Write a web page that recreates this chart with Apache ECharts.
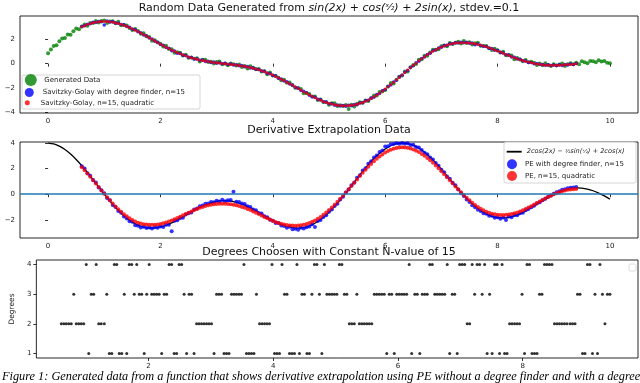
<!DOCTYPE html>
<html><head><meta charset="utf-8">
<script src="https://cdn.jsdelivr.net/npm/echarts@6/dist/echarts.min.js"></script>
<style>html,body{margin:0;padding:0;background:#fff}#c{width:640px;height:383px}</style>
</head><body><div id="c"></div>
<script>
// ---------- Panel 1: generated data ----------
const xGen = [
0,0.05,0.1,0.15,0.2,0.25,0.3,0.35,0.4,0.45,0.5,0.55,0.6,0.65,0.7,0.75,0.8,0.85,0.9,0.95,
1,1.05,1.1,1.15,1.2,1.25,1.3,1.35,1.4,1.45,1.5,1.55,1.6,1.65,1.7,1.75,1.8,1.85,1.9,1.95,
2,2.05,2.1,2.15,2.2,2.25,2.3,2.35,2.4,2.45,2.5,2.55,2.6,2.65,2.7,2.75,2.8,2.85,2.9,2.95,
3,3.05,3.1,3.15,3.2,3.25,3.3,3.35,3.4,3.45,3.5,3.55,3.6,3.65,3.7,3.75,3.8,3.85,3.9,3.95,
4,4.05,4.1,4.15,4.2,4.25,4.3,4.35,4.4,4.45,4.5,4.55,4.6,4.65,4.7,4.75,4.8,4.85,4.9,4.95,
5,5.05,5.1,5.15,5.2,5.25,5.3,5.35,5.4,5.45,5.5,5.55,5.6,5.65,5.7,5.75,5.8,5.85,5.9,5.95,
6,6.05,6.1,6.15,6.2,6.25,6.3,6.35,6.4,6.45,6.5,6.55,6.6,6.65,6.7,6.75,6.8,6.85,6.9,6.95,
7,7.05,7.1,7.15,7.2,7.25,7.3,7.35,7.4,7.45,7.5,7.55,7.6,7.65,7.7,7.75,7.8,7.85,7.9,7.95,
8,8.05,8.1,8.15,8.2,8.25,8.3,8.35,8.4,8.45,8.5,8.55,8.6,8.65,8.7,8.75,8.8,8.85,8.9,8.95,
9,9.05,9.1,9.15,9.2,9.25,9.3,9.35,9.4,9.45,9.5,9.55,9.6,9.65,9.7,9.75,9.8,9.85,9.9,9.95,
10];
const yGen = [
0.85,1.16,1.45,1.51,1.84,2.07,2.11,2.39,2.38,2.66,
2.89,2.83,3.04,3.21,3.10,3.34,3.34,3.50,3.37,3.49,
3.54,3.34,3.45,3.48,3.32,3.43,3.15,3.18,3.13,2.93,
2.77,2.84,2.67,2.45,2.50,2.24,2.18,1.87,1.93,1.73,
1.64,1.40,1.47,1.21,1.18,0.90,0.93,0.90,0.67,0.74,
0.48,0.51,0.41,0.44,0.18,0.31,0.32,0.13,0.15,0.01,
0.13,0.18,-0.04,0.01,-0.13,0.01,-0.04,-0.15,-0.06,-0.27,
-0.20,-0.39,-0.22,-0.33,-0.46,-0.43,-0.64,-0.63,-0.86,-0.72,
-0.98,-0.99,-1.15,-1.37,-1.32,-1.57,-1.54,-1.78,-1.98,-2.00,
-2.08,-2.43,-2.40,-2.50,-2.70,-2.69,-2.98,-2.95,-3.14,-3.16,
-3.37,-3.24,-3.26,-3.48,-3.42,-3.47,-3.40,-3.73,-3.38,-3.52,
-3.30,-3.16,-3.21,-3.02,-3.06,-2.83,-2.61,-2.62,-2.33,-2.27,
-2.16,-1.87,-1.59,-1.63,-1.32,-1.07,-0.97,-0.65,-0.65,-0.29,
-0.12,-0.02,0.33,0.37,0.64,0.64,0.92,1.14,1.14,1.18,
1.43,1.48,1.43,1.69,1.61,1.71,1.80,1.66,1.85,1.70,
1.76,1.57,1.67,1.71,1.46,1.45,1.45,1.27,1.13,1.23,
1.10,0.91,0.97,0.68,0.70,0.67,0.37,0.46,0.34,0.20,
0.30,0.11,0.15,0.07,-0.12,0.02,-0.14,0.03,-0.11,-0.20,
-0.05,-0.16,-0.07,0.01,-0.19,-0.04,0.04,-0.05,0.07,-0.05,
0.19,0.11,0.04,0.21,0.19,0.11,0.27,0.17,0.22,0.07,
0.03];
// shared x positions of the smoothed / extrapolated estimates
const xEst = [
0.6,0.65,0.7,0.75,0.8,0.85,0.9,0.95,1,1.05,
1.1,1.15,1.2,1.25,1.3,1.35,1.4,1.45,1.5,1.55,
1.6,1.65,1.7,1.75,1.8,1.85,1.9,1.95,2,2.05,
2.1,2.15,2.2,2.25,2.3,2.35,2.4,2.45,2.5,2.55,
2.6,2.65,2.7,2.75,2.8,2.85,2.9,2.95,3,3.05,
3.1,3.15,3.2,3.25,3.3,3.35,3.4,3.45,3.5,3.55,
3.6,3.65,3.7,3.75,3.8,3.85,3.9,3.95,4,4.05,
4.1,4.15,4.2,4.25,4.3,4.35,4.4,4.45,4.5,4.55,
4.6,4.65,4.7,4.75,4.8,4.85,4.9,4.95,5,5.05,
5.1,5.15,5.2,5.25,5.3,5.35,5.4,5.45,5.5,5.55,
5.6,5.65,5.7,5.75,5.8,5.85,5.9,5.95,6,6.05,
6.1,6.15,6.2,6.25,6.3,6.35,6.4,6.45,6.5,6.55,
6.6,6.65,6.7,6.75,6.8,6.85,6.9,6.95,7,7.05,
7.1,7.15,7.2,7.25,7.3,7.35,7.4,7.45,7.5,7.55,
7.6,7.65,7.7,7.75,7.8,7.85,7.9,7.95,8,8.05,
8.1,8.15,8.2,8.25,8.3,8.35,8.4,8.45,8.5,8.55,
8.6,8.65,8.7,8.75,8.8,8.85,8.9,8.95,9,9.05,
9.1,9.15,9.2,9.25,9.3,9.35,9.4];
const ySGDeg = [
3.05,3.10,3.24,3.27,3.39,3.37,3.46,3.43,3.18,3.49,
3.41,3.43,3.33,3.32,3.21,3.19,3.04,2.99,2.83,2.78,
2.61,2.54,2.36,2.29,2.10,2.03,1.83,1.76,1.57,1.51,
1.32,1.27,1.05,1.04,0.86,0.84,0.68,0.67,0.52,0.51,
0.39,0.39,0.27,0.29,0.18,0.20,0.10,0.13,0.04,0.08,
-0.01,0.03,-0.06,-0.03,-0.11,-0.09,-0.18,-0.16,-0.25,-0.24,
-0.35,-0.35,-0.47,-0.48,-0.61,-0.63,-0.78,-0.81,-0.97,-1.02,
-1.19,-1.25,-1.42,-1.49,-1.68,-1.75,-1.94,-2.01,-2.20,-2.27,
-2.38,-2.59,-2.71,-2.76,-2.93,-2.97,-3.13,-3.15,-3.29,-3.29,
-3.41,-3.39,-3.48,-3.43,-3.50,-3.42,-3.46,-3.35,-3.37,-3.23,
-3.21,-3.05,-3.01,-2.82,-2.75,-2.54,-2.45,-2.22,-2.12,-1.87,
-1.75,-1.50,-1.36,-1.10,-0.96,-0.70,-0.56,-0.31,-0.17,0.07,
0.20,0.43,0.54,0.76,0.85,1.05,1.12,1.29,1.34,1.48,
1.51,1.63,1.63,1.72,1.69,1.76,1.71,1.75,1.68,1.70,
1.55,1.61,1.49,1.42,1.41,1.27,1.25,1.10,1.07,0.92,
0.88,0.73,0.70,0.55,0.52,0.38,0.36,0.23,0.22,0.10,
0.10,0.00,0.01,-0.08,-0.06,-0.14,-0.10,-0.16,-0.11,-0.16,
-0.10,-0.15,-0.07,-0.11,-0.03,-0.07,0.02];
const ySGQuad = [
3.02,3.12,3.21,3.29,3.36,3.40,3.44,3.45,3.46,3.45,
3.43,3.40,3.36,3.30,3.24,3.16,3.07,2.97,2.87,2.75,
2.64,2.51,2.39,2.26,2.13,2.00,1.86,1.73,1.60,1.48,
1.35,1.24,1.12,1.01,0.91,0.81,0.72,0.64,0.55,0.48,
0.42,0.36,0.30,0.26,0.21,0.17,0.13,0.10,0.07,0.05,
0.02,0.00,-0.03,-0.06,-0.08,-0.12,-0.15,-0.19,-0.22,-0.27,
-0.32,-0.38,-0.44,-0.51,-0.58,-0.66,-0.75,-0.84,-0.94,-1.05,
-1.16,-1.28,-1.39,-1.52,-1.65,-1.78,-1.91,-2.04,-2.17,-2.30,
-2.43,-2.56,-2.68,-2.79,-2.90,-3.00,-3.10,-3.18,-3.26,-3.32,
-3.37,-3.41,-3.44,-3.45,-3.46,-3.44,-3.42,-3.38,-3.33,-3.26,
-3.18,-3.08,-2.98,-2.85,-2.72,-2.57,-2.42,-2.25,-2.09,-1.90,
-1.72,-1.53,-1.33,-1.13,-0.93,-0.73,-0.53,-0.34,-0.14,0.04,
0.23,0.40,0.57,0.73,0.88,1.02,1.15,1.26,1.37,1.45,
1.54,1.60,1.66,1.69,1.71,1.72,1.72,1.71,1.70,1.67,
1.63,1.58,1.52,1.45,1.38,1.30,1.22,1.13,1.04,0.95,
0.85,0.76,0.67,0.58,0.49,0.41,0.33,0.26,0.19,0.13,
0.07,0.03,-0.02,-0.05,-0.09,-0.11,-0.13,-0.13,-0.14,-0.13,
-0.13,-0.12,-0.10,-0.08,-0.06,-0.04,-0.01];
// ---------- Panel 2: derivative ----------
const xTrue = [
0,0.1,0.2,0.3,0.4,0.5,0.6,0.7,0.8,0.9,1,1.1,1.2,1.3,1.4,1.5,1.6,1.7,1.8,1.9,
2,2.1,2.2,2.3,2.4,2.5,2.6,2.7,2.8,2.9,3,3.1,3.2,3.3,3.4,3.5,3.6,3.7,3.8,3.9,
4,4.1,4.2,4.3,4.4,4.5,4.6,4.7,4.8,4.9,5,5.1,5.2,5.3,5.4,5.5,5.6,5.7,5.8,5.9,
6,6.1,6.2,6.3,6.4,6.5,6.6,6.7,6.8,6.9,7,7.1,7.2,7.3,7.4,7.5,7.6,7.7,7.8,7.9,
8,8.1,8.2,8.3,8.4,8.5,8.6,8.7,8.8,8.9,9,9.1,9.2,9.3,9.4,9.5,9.6,9.7,9.8,9.9,10];
const yTrue = [
4.000,3.925,3.753,3.487,3.136,2.712,2.228,1.698,1.140,0.571,
0.009,-0.531,-1.032,-1.481,-1.867,-2.179,-2.414,-2.567,-2.640,-2.635,
-2.560,-2.424,-2.237,-2.013,-1.766,-1.509,-1.259,-1.027,-0.826,-0.667,
-0.558,-0.505,-0.510,-0.573,-0.691,-0.857,-1.064,-1.300,-1.553,-1.808,
-2.053,-2.272,-2.451,-2.578,-2.641,-2.633,-2.547,-2.380,-2.132,-1.807,
-1.410,-0.951,-0.442,0.099,0.667,1.235,1.789,2.312,2.787,3.199,
3.538,3.788,3.945,4.003,3.961,3.822,3.591,3.276,2.891,2.446,
1.957,1.442,0.919,0.403,-0.091,-0.541,-0.939,-1.273,-1.536,-1.722,
-1.828,-1.855,-1.809,-1.697,-1.528,-1.307,-1.057,-0.789,-0.515,-0.249,
-0.013,0.190,0.348,0.452,0.498,0.482,0.405,0.271,0.089,-0.132,
-0.383];
const yPEDeg = [
2.18,2.00,1.64,1.45,1.12,0.91,0.53,0.31,0.07,-0.29,
-0.48,-0.85,-1.00,-1.31,-1.44,-1.75,-1.89,-2.11,-2.15,-2.42,
-2.47,-2.59,-2.55,-2.64,-2.59,-2.67,-2.58,-2.62,-2.52,-2.57,
-2.39,-2.38,-2.89,-2.07,-2.04,-1.85,-1.83,-1.59,-1.49,-1.42,
-1.19,-1.11,-0.94,-0.88,-0.75,-0.73,-0.61,-0.63,-0.51,-0.56,
-0.44,-0.54,-0.48,-0.46,0.19,-0.58,-0.60,-0.73,-0.76,-0.93,
-1.00,-1.20,-1.25,-1.46,-1.51,-1.73,-1.79,-1.99,-2.08,-2.24,
-2.25,-2.45,-2.49,-2.61,-2.55,-2.73,-2.69,-2.78,-2.61,-2.67,
-2.58,-2.53,-2.34,-2.56,-2.10,-2.02,-1.77,-1.64,-1.36,-1.20,
-0.92,-0.74,-0.42,-0.20,0.14,0.36,0.70,0.91,1.29,1.48,
1.85,2.03,2.38,2.58,2.87,3.03,3.30,3.42,3.72,3.74,
3.91,3.93,3.99,3.95,4.01,3.95,3.98,3.85,3.87,3.69,
3.65,3.46,3.24,3.13,2.86,2.71,2.43,2.23,1.92,1.72,
1.39,1.21,0.90,0.70,0.37,0.08,-0.14,-0.42,-0.60,-0.86,
-1.01,-1.22,-1.32,-1.49,-1.52,-1.69,-1.69,-1.83,-1.79,-1.92,
-1.81,-2.01,-1.75,-1.79,-1.63,-1.64,-1.48,-1.44,-1.25,-1.16,
-1.01,-0.91,-0.73,-0.62,-0.47,-0.36,-0.19,-0.10,0.04,0.15,
0.23,0.34,0.38,0.46,0.50,0.52,0.56];
const yPEQuad = [
2.10,1.87,1.62,1.37,1.10,0.84,0.56,0.30,0.03,-0.23,
-0.48,-0.72,-0.95,-1.17,-1.37,-1.56,-1.73,-1.88,-2.02,-2.13,
-2.22,-2.29,-2.34,-2.37,-2.39,-2.39,-2.38,-2.36,-2.32,-2.27,
-2.21,-2.14,-2.05,-1.96,-1.86,-1.76,-1.65,-1.55,-1.44,-1.34,
-1.24,-1.15,-1.06,-0.99,-0.92,-0.87,-0.82,-0.79,-0.76,-0.75,
-0.74,-0.75,-0.76,-0.79,-0.82,-0.87,-0.92,-0.99,-1.06,-1.15,
-1.24,-1.34,-1.44,-1.55,-1.66,-1.77,-1.88,-1.98,-2.08,-2.17,
-2.25,-2.31,-2.37,-2.41,-2.44,-2.45,-2.46,-2.45,-2.43,-2.39,
-2.33,-2.25,-2.16,-2.05,-1.92,-1.77,-1.61,-1.43,-1.24,-1.04,
-0.82,-0.59,-0.36,-0.12,0.13,0.38,0.64,0.90,1.16,1.42,
1.67,1.91,2.15,2.37,2.58,2.77,2.95,3.11,3.25,3.37,
3.48,3.56,3.62,3.65,3.67,3.66,3.63,3.57,3.50,3.40,
3.29,3.15,3.00,2.83,2.65,2.45,2.24,2.02,1.80,1.57,
1.33,1.09,0.85,0.61,0.38,0.15,-0.07,-0.28,-0.48,-0.67,
-0.84,-1.00,-1.14,-1.26,-1.37,-1.45,-1.52,-1.57,-1.60,-1.62,
-1.62,-1.61,-1.58,-1.54,-1.48,-1.42,-1.34,-1.25,-1.15,-1.04,
-0.93,-0.81,-0.69,-0.57,-0.45,-0.33,-0.22,-0.11,-0.01,0.08,
0.16,0.23,0.29,0.34,0.37,0.39,0.40];
// ---------- Panel 3: degrees ----------
const xDeg = [
0.60,0.64,0.68,0.72,0.76,0.80,0.84,0.88,0.92,0.96,
1.00,1.04,1.08,1.12,1.16,1.20,1.24,1.29,1.33,1.37,
1.41,1.45,1.49,1.53,1.57,1.61,1.65,1.69,1.73,1.77,
1.81,1.85,1.89,1.93,1.97,2.01,2.05,2.09,2.13,2.17,
2.21,2.25,2.29,2.33,2.37,2.41,2.45,2.49,2.53,2.57,
2.61,2.65,2.69,2.73,2.77,2.81,2.85,2.89,2.93,2.97,
3.01,3.05,3.09,3.13,3.17,3.21,3.25,3.29,3.33,3.37,
3.41,3.45,3.49,3.53,3.57,3.61,3.65,3.69,3.73,3.78,
3.82,3.86,3.90,3.94,3.98,4.02,4.06,4.10,4.14,4.18,
4.22,4.26,4.30,4.34,4.38,4.42,4.46,4.50,4.54,4.58,
4.62,4.66,4.70,4.74,4.78,4.82,4.86,4.90,4.94,4.98,
5.02,5.06,5.10,5.14,5.18,5.22,5.26,5.30,5.34,5.38,
5.42,5.46,5.50,5.54,5.58,5.62,5.66,5.70,5.74,5.78,
5.82,5.86,5.90,5.94,5.98,6.02,6.06,6.10,6.14,6.18,
6.22,6.27,6.31,6.35,6.39,6.43,6.47,6.51,6.55,6.59,
6.63,6.67,6.71,6.75,6.79,6.83,6.87,6.91,6.95,6.99,
7.03,7.07,7.11,7.15,7.19,7.23,7.27,7.31,7.35,7.39,
7.43,7.47,7.51,7.55,7.59,7.63,7.67,7.71,7.75,7.79,
7.83,7.87,7.91,7.95,7.99,8.03,8.07,8.11,8.15,8.19,
8.23,8.27,8.31,8.35,8.39,8.43,8.47,8.51,8.55,8.59,
8.63,8.67,8.71,8.76,8.80,8.84,8.88,8.92,8.96,9.00,
9.04,9.08,9.12,9.16,9.20,9.24,9.28,9.32,9.36,9.40];
const yDeg = [
2,2,2,2,2,3,2,2,2,2,
4,1,3,3,4,2,2,2,3,1,
1,4,4,1,1,3,1,4,4,3,
4,3,3,1,3,4,3,3,3,3,
1,3,3,4,4,1,1,4,4,3,
1,3,3,1,2,2,2,2,2,2,
2,1,3,3,3,1,1,1,3,3,
3,3,3,4,1,1,1,1,3,2,
2,2,2,2,4,1,1,1,4,3,
3,1,1,1,4,1,3,3,1,1,
3,4,4,3,1,4,3,3,3,3,
3,4,4,3,3,2,2,2,3,2,
2,2,2,2,2,3,3,3,3,3,
1,3,3,1,3,3,3,3,3,4,
1,3,3,1,3,3,3,4,4,3,
3,3,3,3,4,1,3,3,1,4,
4,4,2,2,4,3,4,4,3,4,
1,3,1,4,4,1,4,1,1,2,
2,2,2,2,3,1,4,4,1,1,
1,3,3,4,4,4,4,2,2,2,
2,2,2,2,2,2,3,3,1,1,
4,4,1,3,1,4,3,2,3,3];
// ---------- ticks & text ----------
const xTicksTop = [0,2,4,6,8,10];
const yTicks1 = [-4,-2,0,2];
const yTicks2 = [-2,0,2,4];
const xTicks3 = [2,4,6,8];
const yTicks3 = [1,2,3,4];
const names = {
  gen: 'Generated Data',
  sgDeg: 'Savitzky-Golay with degree finder, n=15',
  sgQuad: 'Savitzky-Golay, n=15, quadratic',
  truth: '2cos(2x) − ½sin(x/2) + 2cos(x)',
  peDeg: 'PE with degree finder, n=15',
  peQuad: 'PE, n=15, quadratic',
  deg: 'Degrees'
};

const FONT = "'DejaVu Sans', sans-serif";
const zip = (xs, ys) => xs.map((x, i) => [x, ys[i]]);
const minus = v => String(v).replace('-', '\u2212');

function xAx(gi, min, max, ticks) {
  return {type:'value', gridIndex:gi, min:min, max:max,
    axisLine:{show:false}, splitLine:{show:false},
    axisTick:{show:true, length:3, lineStyle:{color:'#000', width:0.8}, customValues:ticks},
    axisLabel:{show:true, customValues:ticks, fontSize:7, color:'#222', fontFamily:FONT, margin:5, formatter:minus}};
}
function yAx(gi, min, max, ticks, extra) {
  return Object.assign({type:'value', gridIndex:gi, min:min, max:max,
    axisLine:{show:false}, splitLine:{show:false},
    axisTick:{show:true, length:3, lineStyle:{color:'#000', width:0.8}, customValues:ticks},
    axisLabel:{show:true, customValues:ticks, fontSize:7, color:'#222', fontFamily:FONT, margin:5, formatter:minus}}, extra || {});
}
const gridStyle = {show:true, borderColor:'#111', borderWidth:0.9, backgroundColor:'rgba(0,0,0,0)'};

function lg(name, left, top, w, h, icon, extraText) {
  const d = {name:name, icon:icon};
  const o = {show:true, left:left, top:top, padding:0, itemWidth:w, itemHeight:h, itemGap:0,
    selectedMode:false, z:20, data:[d],
    textStyle:{fontSize:7, lineHeight:8, color:'#222', fontFamily:FONT}};
  if (extraText) Object.assign(o, extraText);
  return o;
}

const chart = echarts.init(document.getElementById('c'), null, {renderer:'canvas', width:640, height:383});
chart.setOption({
  animation:false,
  backgroundColor:'#fff',
  title:[
    {text:'{n|Random Data Generated from }{i|sin(2x) + cos(}{f|ˣ⁄₂}{i|) + 2sin(x)}{n|, stdev.=0.1}',
     left:329, top:8, textAlign:'center', textVerticalAlign:'middle', padding:0,
     textStyle:{fontSize:11, fontWeight:'normal', color:'#111', fontFamily:FONT,
       rich:{n:{fontSize:11, fontFamily:FONT, color:'#111'}, i:{fontSize:11, fontStyle:'italic', fontFamily:FONT, color:'#111'}, f:{fontSize:9, fontStyle:'italic', fontFamily:FONT, color:'#111'}}}},
    {text:'Derivative Extrapolation Data', left:329, top:130, textAlign:'center', textVerticalAlign:'middle', padding:0,
     textStyle:{fontSize:11, fontWeight:'normal', color:'#111', fontFamily:FONT}},
    {text:'Degrees Choosen with Constant N-value of 15', left:329, top:252, textAlign:'center', textVerticalAlign:'middle', padding:0,
     textStyle:{fontSize:11, fontWeight:'normal', color:'#111', fontFamily:FONT}},
    {text:'Figure 1: Generated data from a function that shows derivative extrapolation using PE without a degree finder and with a degree',
     left:2, top:377, textVerticalAlign:'middle', padding:0,
     textStyle:{fontSize:12.3, fontWeight:'normal', fontStyle:'italic', color:'#000', fontFamily:"'Liberation Serif', serif"}}
  ],
  grid:[
    Object.assign({left:20, top:16, width:618, height:97}, gridStyle),
    Object.assign({left:20, top:142, width:618, height:96}, gridStyle),
    Object.assign({left:20, top:260, width:618, height:98}, gridStyle)
  ],
  xAxis:[ xAx(0,-0.5,10.5,xTicksTop), xAx(1,-0.5,10.5,xTicksTop), xAx(2,0.2,9.85,xTicks3) ],
  yAxis:[ yAx(0,-4.05,3.91,yTicks1), yAx(1,-3.42,4.08,yTicks2),
    yAx(2,0.85,4.15,yTicks3,{name:names.deg, nameLocation:'middle', nameGap:14, nameRotate:90,
      nameTextStyle:{fontSize:7.5, color:'#222', fontFamily:FONT}}) ],
  legend:[
    lg(names.gen, 24.8, 74, 17, 12, 'circle'),
    lg(names.sgDeg, 24.8, 88, 17, 9, 'circle'),
    lg(names.sgQuad, 24.8, 98.7, 17, 5, 'circle'),
    lg(names.truth, 506.7, 147.7, 15, 1.8, 'rect', {formatter:function(){return '{i|2cos(2x) − }{f|½}{i|sin(}{f|ˣ⁄₂}{i|) + 2cos(x)}';},
      textStyle:{fontSize:7, lineHeight:8, color:'#222', fontFamily:FONT,
        rich:{i:{fontSize:6.6, fontStyle:'italic', fontFamily:FONT, color:'#222'}, f:{fontSize:5.5, fontStyle:'italic', fontFamily:FONT, color:'#222'}}}}),
    lg(names.peDeg, 507, 159.3, 16, 10, 'circle'),
    lg(names.peQuad, 507, 171, 16, 10, 'circle')
  ],
  graphic:[
    {type:'rect', z:15, shape:{x:22, y:75, width:178, height:34, r:2}, style:{fill:'rgba(255,255,255,0.85)', stroke:'#cccccc', lineWidth:0.8}},
    {type:'rect', z:15, shape:{x:504, y:142, width:132, height:41, r:2}, style:{fill:'rgba(255,255,255,0.85)', stroke:'#cccccc', lineWidth:0.8}},
    {type:'rect', z:15, shape:{x:629, y:264, width:7, height:7, r:1.5}, style:{fill:'#fff', stroke:'#d0d0d0', lineWidth:0.8}}
  ],
  series:[
    {name:names.gen, type:'scatter', xAxisIndex:0, yAxisIndex:0, data:zip(xGen, yGen), symbolSize:4, z:2,
      itemStyle:{color:'#008000'}},
    {name:names.sgDeg, type:'scatter', xAxisIndex:0, yAxisIndex:0, data:zip(xEst, ySGDeg), symbolSize:3.5, z:3,
      itemStyle:{color:'#0000ff'}},
    {name:names.sgQuad, type:'scatter', xAxisIndex:0, yAxisIndex:0, data:zip(xEst, ySGQuad), symbolSize:3, z:4,
      itemStyle:{color:'#ff0000'}},
    {name:names.truth, type:'line', xAxisIndex:1, yAxisIndex:1, data:zip(xTrue, yTrue), showSymbol:false, symbol:'none', smooth:0.3, z:2,
      lineStyle:{color:'#000', width:1.3}, itemStyle:{color:'#000'}},
    {name:names.peDeg, type:'scatter', xAxisIndex:1, yAxisIndex:1, data:zip(xEst, yPEDeg), symbolSize:4, z:3,
      itemStyle:{color:'#0000ff'}},
    {name:names.peQuad, type:'scatter', xAxisIndex:1, yAxisIndex:1, data:zip(xEst, yPEQuad), symbolSize:4, z:4,
      itemStyle:{color:'#ff0000'},
      markLine:{silent:true, symbol:'none', label:{show:false}, lineStyle:{color:'#1f77b4', width:1.5, type:'solid'}, data:[{yAxis:0}]}},
    {name:names.deg, type:'scatter', xAxisIndex:2, yAxisIndex:2, data:zip(xDeg, yDeg), symbolSize:3, z:3,
      itemStyle:{color:'#000'}}
  ]
});
</script>
</body></html>
